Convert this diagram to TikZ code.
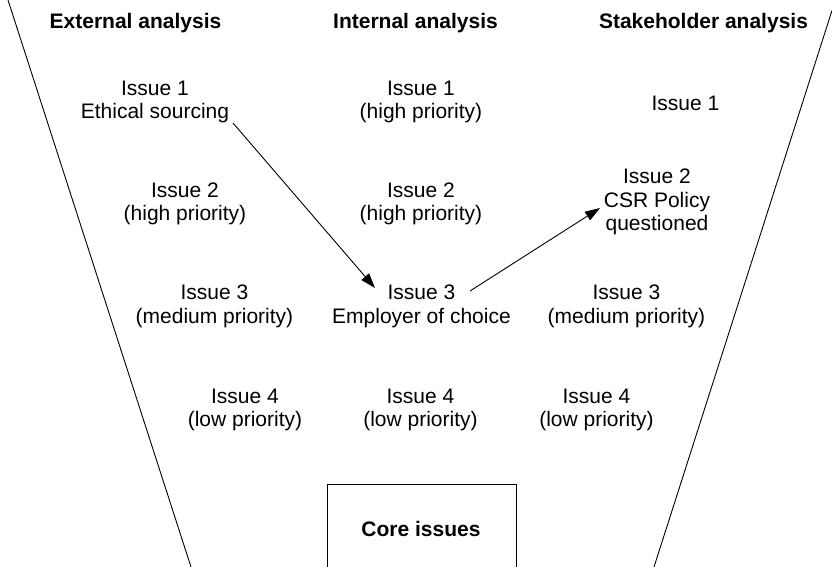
\documentclass[tikz,border=0pt]{standalone}
\usepackage{fontspec}
\setmainfont{Liberation Sans}
\usetikzlibrary{arrows.meta}
\begin{document}
\begin{tikzpicture}[x=1pt,y=-1pt,
  issue/.style={align=center,inner sep=0pt,font=\fontsize{21}{23.5}\selectfont},
  header/.style={inner sep=0pt,font=\fontsize{21}{23.5}\selectfont\bfseries},
  funnel/.style={line width=0.9pt},
  link/.style={line width=0.9pt,-{Triangle[length=15pt,width=10pt]}}]
\useasboundingbox (0,0) rectangle (832,567);
% funnel sides
\draw[funnel] (8,0) -- (191,567);
\draw[funnel] (832,10.5) -- (654,567);
% headers
\node[header] (hE) at (135.5,23.5) {External analysis};
\node[header] (hI) at (415.5,23.5) {Internal analysis};
\node[header] (hS) at (703.5,23.5) {Stakeholder analysis};
% row 1
\node[issue] (e1) at (155,102) {Issue 1\\Ethical sourcing};
\node[issue] (i1) at (421,102) {Issue 1\\(high priority)};
\node[issue] (s1) at (685.5,103.5) {Issue 1};
% row 2
\node[issue] (e2) at (185,204) {Issue 2\\(high priority)};
\node[issue] (i2) at (421,204) {Issue 2\\(high priority)};
\node[issue] (s2) at (657,202) {Issue 2\\CSR Policy\\questioned};
% row 3
\node[issue] (e3) at (214.5,306.5) {Issue 3\\(medium priority)};
\node[issue] (i3) at (421.5,306.5) {Issue 3\\Employer of choice};
\node[issue] (s3) at (626.5,306.5) {Issue 3\\(medium priority)};
% row 4
\node[issue] (e4) at (245,410) {Issue 4\\(low priority)};
\node[issue] (i4) at (420.5,410) {Issue 4\\(low priority)};
\node[issue] (s4) at (596.5,410) {Issue 4\\(low priority)};
% core box
\node[header] (core) at (421,529) {Core issues};
\draw[funnel] (327,570) -- (327,484) -- (516,484) -- (516,570);
% arrows
\coordinate (a1s) at (233,123);
\coordinate (a1e) at (375,288);
\coordinate (a2s) at (470,291);
\coordinate (a2e) at (600,208);
\draw[link] (a1s) -- (a1e);
\draw[link] (a2s) -- (a2e);
\end{tikzpicture}
\end{document}
